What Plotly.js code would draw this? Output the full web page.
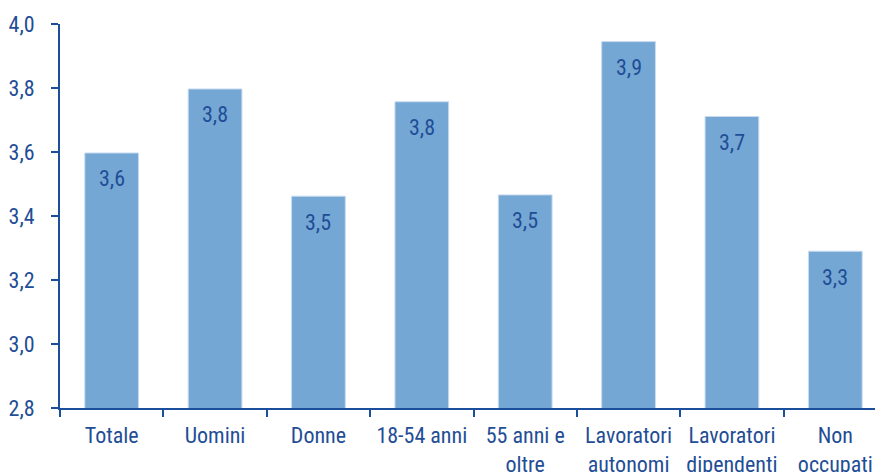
<!DOCTYPE html>
<html><head><meta charset="utf-8">
<script src="https://cdn.plot.ly/plotly-3.0.1.min.js"></script>
<style>html,body{margin:0;padding:0;overflow:hidden;background:#fff;width:875px;height:472px}</style>
</head><body><div id="chart" style="width:890px;height:472px"></div>
<script>
const categories = ["Totale","Uomini","Donne","18-54 anni","55 anni e<br>oltre","Lavoratori<br>autonomi","Lavoratori<br>dipendenti","Non<br>occupati"];
const values = [3.597, 3.797, 3.462, 3.757, 3.466, 3.945, 3.711, 3.29];
const labels = ["3,6","3,8","3,5","3,8","3,5","3,9","3,7","3,3"];
const yTicks = [2.8, 3.0, 3.2, 3.4, 3.6, 3.8, 4.0];
const yTickText = ["2,8","3,0","3,2","3,4","3,6","3,8","4,0"];

const fontFam = '"Roboto Condensed", "Liberation Sans", Arial, sans-serif';
const dark = '#1f4e96';
const axisCol = '#1b4f9c';

const trace = {
  type: 'bar', x: categories, y: values, width: 0.52,
  marker: {color: '#75a7d5', line: {color: '#c9dcef', width: 1}},
  hoverinfo: 'none'
};
const annotations = categories.map((c, i) => ({
  x: c, y: values[i], text: labels[i], showarrow: false,
  yshift: -26, font: {family: fontFam, size: 22, color: dark}
}));
const layout = {
  width: 890, height: 472,
  margin: {l: 60, r: 3, t: 24, b: 64},
  paper_bgcolor: '#fff', plot_bgcolor: '#fff',
  showlegend: false,
  xaxis: {
    type: 'category', range: [-0.5, 7.5],
    showline: true, linecolor: axisCol, linewidth: 2,
    ticks: 'outside', tickson: 'boundaries', ticklen: 7, tickwidth: 2, tickcolor: axisCol,
    showgrid: false, zeroline: false, ticklabelstandoff: 7,
    tickfont: {family: fontFam, size: 22, color: dark}
  },
  yaxis: {
    range: [2.8, 4.0], tickvals: yTicks, ticktext: yTickText,
    showline: true, linecolor: axisCol, linewidth: 2,
    ticks: 'outside', ticklen: 7, tickwidth: 2, tickcolor: axisCol,
    showgrid: false, zeroline: false, ticklabelstandoff: 12,
    tickfont: {family: fontFam, size: 22, color: dark}
  },
  annotations: annotations
};
Plotly.newPlot('chart', [trace], layout, {displayModeBar: false, staticPlot: true});
</script></body></html>
